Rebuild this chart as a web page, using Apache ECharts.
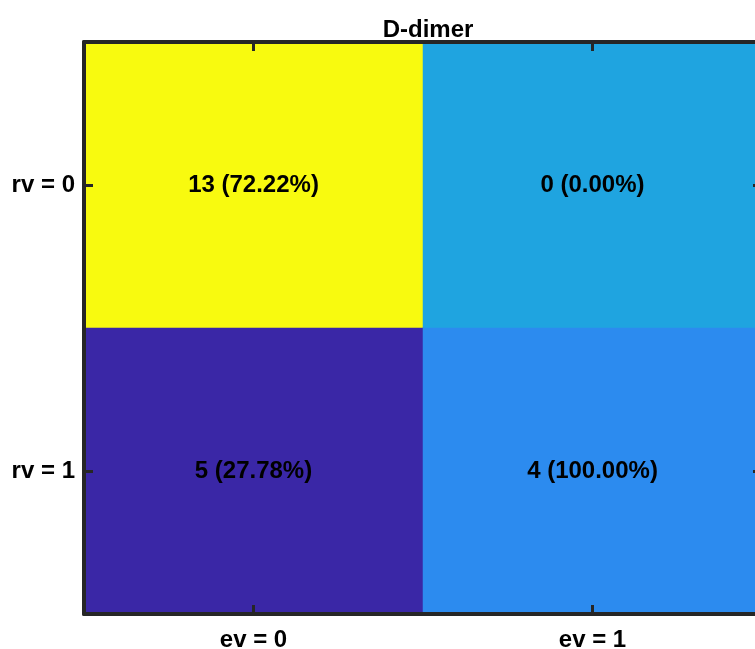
<!DOCTYPE html>
<html>
<head>
<meta charset="utf-8">
<script src="https://cdn.jsdelivr.net/npm/echarts@6/dist/echarts.min.js"></script>
<style>html,body{margin:0;padding:0;background:#fff;}#c{width:755px;height:649px;}</style>
</head>
<body>
<div id="c"></div>
<script>
const titleText = 'D-dimer';
const xCategories = ['ev = 0', 'ev = 1'];
const yCategories = ['rv = 0', 'rv = 1'];
// counts[row][col]
const counts = [[13, 0], [5, 4]];
const percents = [['72.22%', '0.00%'], ['27.78%', '100.00%']];
const cellColors = [['#F8FA0F', '#1FA4E0'], ['#3A27A6', '#2C8BEF']];

const data = [];
for (let r = 0; r < yCategories.length; r++) {
  for (let c = 0; c < xCategories.length; c++) {
    data.push({
      value: [c, r, counts[r][c]],
      label: { formatter: counts[r][c] + ' (' + percents[r][c] + ')' },
      itemStyle: { color: cellColors[r][c] }
    });
  }
}

const font = 'Liberation Sans, Arial, Helvetica, sans-serif';
const lineStyle = { color: '#262626', width: 4 };
const tickStyle = { show: true, inside: true, alignWithLabel: true, length: 9, lineStyle: { color: '#262626', width: 3 } };

const chart = echarts.init(document.getElementById('c'));
chart.setOption({
  animation: false,
  title: {
    text: titleText, left: 423, top: 13, textAlign: 'center',
    textStyle: { fontFamily: font, fontSize: 24, fontWeight: 'bold', color: '#000' }
  },
  grid: { left: 84, top: 42, width: 678, height: 572, containLabel: false, outerBoundsMode: 'none' },
  xAxis: [
    { type: 'category', data: xCategories, position: 'bottom', z: 5,
      axisLine: { show: true, lineStyle }, axisTick: tickStyle,
      axisLabel: { margin: 14, fontFamily: font, fontSize: 24, fontWeight: 'bold', color: '#000' },
      splitLine: { show: false } },
    { type: 'category', data: xCategories, position: 'top', z: 5,
      axisLine: { show: true, lineStyle }, axisTick: tickStyle,
      axisLabel: { show: false }, splitLine: { show: false } }
  ],
  yAxis: [
    { type: 'category', data: yCategories, position: 'left', inverse: true, z: 5,
      axisLine: { show: true, lineStyle }, axisTick: tickStyle,
      axisLabel: { margin: 9, fontFamily: font, fontSize: 24, fontWeight: 'bold', color: '#000' },
      splitLine: { show: false } },
    { type: 'category', data: yCategories, position: 'right', inverse: true, z: 5,
      axisLine: { show: true, lineStyle }, axisTick: tickStyle,
      axisLabel: { show: false }, splitLine: { show: false } }
  ],
  series: [{
    type: 'heatmap',
    data: data,
    label: { show: true, fontFamily: font, fontSize: 24, fontWeight: 'bold', color: '#000' },
    itemStyle: { borderWidth: 0 },
    emphasis: { disabled: true }
  }]
});
</script>
</body>
</html>
